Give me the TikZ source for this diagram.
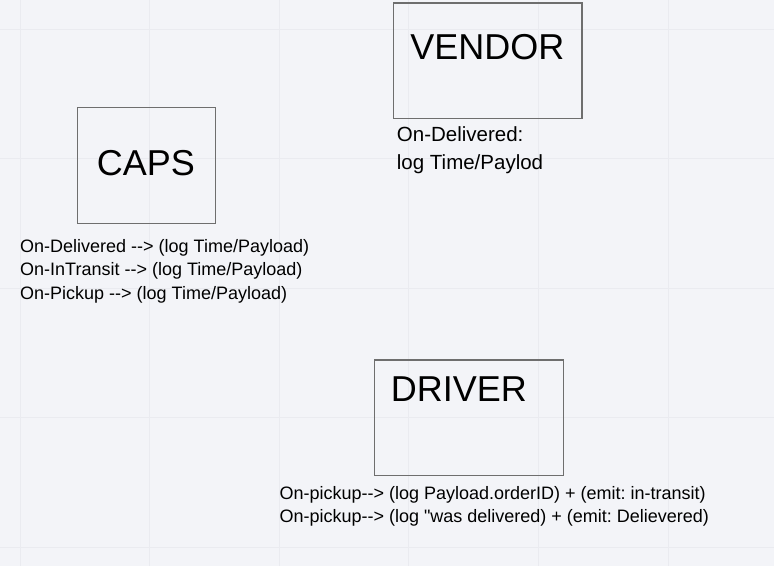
\documentclass[tikz,border=0pt]{standalone}
\usepackage{fontspec}
\setmainfont{Liberation Sans}[Ligatures=TeXOff]
\frenchspacing
\definecolor{bg}{HTML}{F3F4F8}
\definecolor{gridc}{HTML}{EAEBF0}
\definecolor{boxc}{HTML}{6E6E6E}
\tikzset{
  entity/.style={draw=boxc, line width=1.3pt, inner sep=0pt, anchor=north west},
  title/.style={font=\fontsize{36}{43}\selectfont, anchor=base, inner sep=0pt},
  note/.style={font=\fontsize{18}{23.4}\selectfont, anchor=base west, inner sep=0pt},
  vnote/.style={font=\fontsize{20.5}{27.3}\selectfont, anchor=base west, inner sep=0pt},
}
\begin{document}
\begin{tikzpicture}[x=1pt,y=-1pt]
\fill[bg] (0,0) rectangle (774,566);
\useasboundingbox (0,0) rectangle (774,566);
\foreach \gx in {20,149.6,279.2,408.8,538.4,668}
  \draw[gridc, line width=0.8pt] (\gx,0) -- (\gx,566);
\foreach \gy in {29,158.6,288.2,417.8,547.4}
  \draw[gridc, line width=0.8pt] (0,\gy) -- (774,\gy);

% CAPS
\node[entity, minimum width=137.5pt, minimum height=115.5pt] (caps) at (77,107) {};
\node[title] (capst) at (145.8,175) {CAPS};
\node[note] (caps1) at (20,252.3) {On-Delivered --> (log Time/Payload)};
\node[note] (caps2) at (20,275.7) {On-InTransit --> (log Time/Payload)};
\node[note] (caps3) at (20,299.1) {On-Pickup --> (log Time/Payload)};

% VENDOR
\node[entity, minimum width=188.5pt, minimum height=115.5pt] (vendor) at (392.7,2.2) {};
\node[title] (vendort) at (487.3,59) {VENDOR};
\node[vnote] (vend1) at (396.7,141.7) {On-Delivered:};
\node[vnote] (vend2) at (396.7,169) {log Time/Paylod};

% DRIVER
\node[entity, minimum width=189pt, minimum height=115.5pt] (driver) at (373.7,359.3) {};
\node[title] (drivert) at (458.9,401.7) {DRIVER};
\node[note] (drv1) at (279.3,499) {On-pickup--> (log Payload.orderID) + (emit: in-transit)};
\node[note] (drv2) at (279.3,522.7) {On-pickup--> (log "was delivered) + (emit: Delievered)};
\end{tikzpicture}
\end{document}
